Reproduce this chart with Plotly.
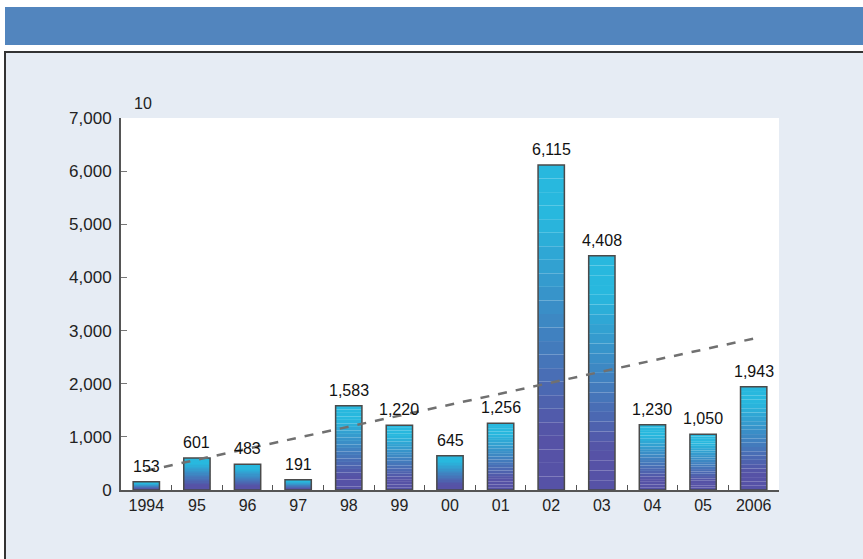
import numpy as np
import plotly.graph_objects as go

categories = ["1994", "95", "96", "97", "98", "99", "00", "01", "02", "03", "04", "05", "2006"]
values = [153, 601, 483, 191, 1583, 1220, 645, 1256, 6115, 4408, 1230, 1050, 1943]
value_labels = ["153", "601", "483", "191", "1,583", "1,220", "645", "1,256", "6,115", "4,408", "1,230", "1,050", "1,943"]
y_ticks = [0, 1000, 2000, 3000, 4000, 5000, 6000, 7000]
unit_label = "10"

FONT = "Liberation Sans, Arial, sans-serif"
vals = np.array(values, dtype=float)
N = 24
bottom = np.array([86, 82, 166])
top = np.array([40, 184, 222])

fig = go.Figure()
for i in range(N):
    t = i / (N - 1)
    t2 = min(1.0, max(0.0, (t - 0.15) / 0.7))
    c = bottom + (top - bottom) * t2
    fig.add_trace(go.Bar(
        x=categories, y=vals / N, base=vals * i / N,
        marker=dict(color="rgb(%d,%d,%d)" % tuple(c.astype(int)), line=dict(width=0)),
        width=0.52, showlegend=False, hoverinfo="skip"))
# outline
fig.add_trace(go.Bar(x=categories, y=vals, base=[0] * len(vals), width=0.52,
                     marker=dict(color="rgba(0,0,0,0)", line=dict(color="#4a4a4a", width=1.5)),
                     showlegend=False, hoverinfo="skip"))
# trend line
xi = np.arange(len(vals))
k, b = np.polyfit(xi, vals, 1)
fig.add_trace(go.Scatter(x=categories, y=k * xi + b, mode="lines",
                         line=dict(color="#707070", width=2.5, dash="dash"),
                         showlegend=False, hoverinfo="skip"))

L, R, T, B = 121, 84, 118, 69
PW, PH = 863 - L - R, 559 - T - B

def px(x):
    return (x - L) / PW

def py(y):
    return (559 - B - y) / PH

annotations = [dict(x=i, y=v, text=lab, xref="x", yref="y", showarrow=False,
                    yanchor="bottom", yshift=5,
                    font=dict(family=FONT, size=16, color="#111"))
               for i, (v, lab) in enumerate(zip(values, value_labels))]
annotations.append(dict(text=unit_label, xref="paper", yref="paper", x=px(143),
                        y=py(103), xanchor="center", yanchor="middle", showarrow=False,
                        font=dict(family=FONT, size=16, color="#222")))

fig.update_layout(
    width=863, height=559,
    margin=dict(l=L, r=R, t=T, b=B),
    paper_bgcolor="white", plot_bgcolor="white",
    barmode="overlay",
    font=dict(family=FONT, size=16, color="#222"),
    xaxis=dict(type="category", showgrid=False, showline=True, linecolor="#555", linewidth=2,
               ticks="inside", tickson="boundaries", ticklen=5, tickcolor="#555",
               tickfont=dict(family=FONT, size=16, color="#222"), fixedrange=True),
    yaxis=dict(range=[0, 7000], tickvals=y_ticks, tickformat=",", showgrid=False,
               showline=True, linecolor="#555", linewidth=2, ticks="inside", ticklen=6,
               tickcolor="#777", zeroline=False, ticklabelstandoff=4,
               tickfont=dict(family=FONT, size=17, color="#222"), fixedrange=True),
    shapes=[
        dict(type="rect", xref="paper", yref="paper", layer="below",
             x0=px(5), x1=px(870), y0=py(45), y1=py(7),
             fillcolor="#5285BE", line=dict(width=0)),
        dict(type="rect", xref="paper", yref="paper", layer="below",
             x0=px(5), x1=px(875), y0=py(570), y1=py(52),
             fillcolor="#E6ECF4", line=dict(color="#333", width=2)),
        dict(type="rect", xref="x domain", yref="y domain", layer="below",
             x0=0, x1=1, y0=0, y1=1, fillcolor="white", line=dict(width=0)),
    ],
    annotations=annotations,
)
fig.write_html("out.html", config={"displayModeBar": False},
               post_script="document.body.style.margin='0';document.body.style.padding='0';")
